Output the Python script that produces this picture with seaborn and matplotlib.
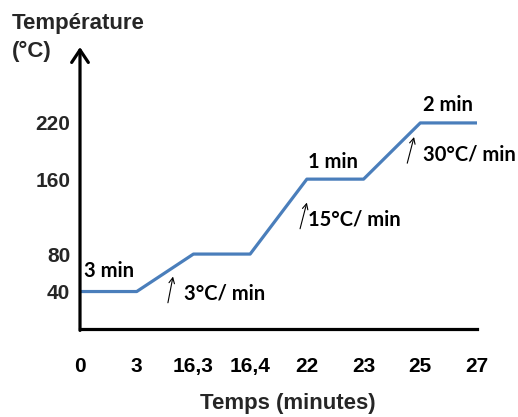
import matplotlib
matplotlib.use("Agg")
import matplotlib.pyplot as plt
import seaborn as sns
import pandas as pd
import numpy as np

# Thermal program: time points (minutes) and oven temperature (°C)
time_labels = ["0", "3", "16,3", "16,4", "22", "23", "25", "27"]
temperatures = [40, 40, 80, 80, 160, 160, 220, 220]
ytick_values = [40, 80, 160, 220]

# Step annotations: (text, x index, temperature) and rate arrows
hold_labels = [("3 min", 0.07, 62), ("1 min", 4.02, 178), ("2 min", 6.05, 239)]
rate_labels = [("3°C/ min", 1.83, 38), ("15°C/ min", 4.02, 117), ("30°C/ min", 6.05, 186)]
rate_arrows = [((1.55, 28), (1.64, 56)), ((3.88, 107), (4.0, 135)), ((5.77, 177), (5.89, 205))]

sns.set_style("white")
plt.rcParams["font.family"] = ["Liberation Sans", "DejaVu Sans"]

df = pd.DataFrame({"pos": np.arange(len(time_labels)), "temp": temperatures})

fig = plt.figure(figsize=(5.18, 4.17), dpi=100)
ax = fig.add_axes([80 / 518, 1 - 329 / 417, 397 / 518, 281 / 417])

sns.lineplot(data=df, x="pos", y="temp", ax=ax, color="#4A7EBB", linewidth=2.3)

ax.set_xlim(0, len(time_labels) - 1)
ax.set_ylim(0, 300)

for side in ["top", "right", "left"]:
    ax.spines[side].set_visible(False)
ax.spines["bottom"].set_linewidth(2.3)
ax.spines["bottom"].set_color("black")

# y axis drawn as an arrow
ax.annotate("", xy=(0, 301), xytext=(0, -1.5), xycoords="data",
            arrowprops=dict(arrowstyle="->, head_length=0.45, head_width=0.3",
                            lw=2.3, color="black", mutation_scale=20,
                            shrinkA=0, shrinkB=0),
            annotation_clip=False)

ax.set_xticks(df["pos"])
ax.set_xticklabels(time_labels, fontsize=15, fontweight="bold")
ax.tick_params(axis="x", direction="in", length=5, width=2, pad=20, colors="black")
ax.set_yticks(ytick_values)
ax.set_yticklabels([str(v) for v in ytick_values], fontsize=15, fontweight="bold")
ax.tick_params(axis="y", length=0, pad=7)
ax.set_xlabel("")
ax.set_ylabel("")

ann_font = ["Lato", "DejaVu Sans"]
for text, x, y in hold_labels + rate_labels:
    ax.text(x, y, text, fontsize=14.5, fontweight="bold", family=ann_font,
            ha="left", va="center", color="black")

for (x0, y0), (x1, y1) in rate_arrows:
    ax.annotate("", xy=(x1, y1), xytext=(x0, y0),
                arrowprops=dict(arrowstyle="->, head_length=0.4, head_width=0.2",
                                lw=0.8, color="black", shrinkA=0, shrinkB=0))

fig.text(12 / 518, 1 - 13 / 417, "Température\n(°C)", fontsize=16,
         fontweight="bold", ha="left", va="top", linespacing=1.45)
fig.text(288 / 518, 1 - 404 / 417, "Temps (minutes)", fontsize=16,
         fontweight="bold", ha="center", va="center")

fig.savefig("out.png", dpi=100)
